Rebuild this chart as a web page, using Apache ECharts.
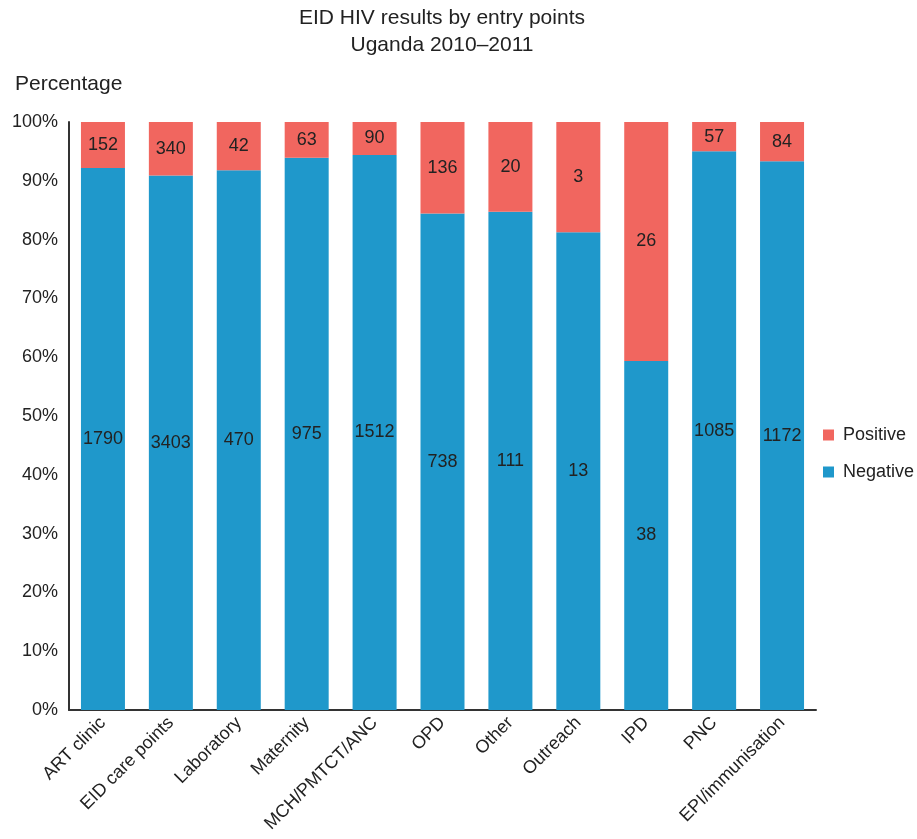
<!DOCTYPE html>
<html><head><meta charset="utf-8">
<script src="https://cdn.jsdelivr.net/npm/echarts@6/dist/echarts.min.js"></script>
<style>html,body{margin:0;padding:0;background:#fff}#c{width:917px;height:839px}</style>
</head><body><div id="c"></div>
<script>
const categories = ['ART clinic','EID care points','Laboratory','Maternity','MCH/PMTCT/ANC','OPD','Other','Outreach','IPD','PNC','EPI/immunisation'];
const negative = [1790,3403,470,975,1512,738,111,13,38,1085,1172];
const positive = [152,340,42,63,90,136,20,3,26,57,84];
const yTicks = [0,10,20,30,40,50,60,70,80,90,100];

const F = '"Liberation Sans", Arial, Helvetica, sans-serif';
const pct = (arr, i) => arr[i] / (negative[i] + positive[i]) * 100;
const negData = negative.map((v,i)=>({value: pct(negative,i), count: v}));
const posData = positive.map((v,i)=>({value: pct(positive,i), count: v}));

const chart = echarts.init(document.getElementById('c'), null, {renderer:'canvas'});
const lbl = {show:true, position:'inside', color:'#222', fontFamily:F, fontSize:18, formatter:p=>p.data.count};
chart.setOption({
  animation:false,
  title:[
    {text:'EID HIV results by entry points\nUganda 2010\u20132011', left:442, top:5, textAlign:'center', padding:0,
     textStyle:{fontFamily:F, fontSize:21, fontWeight:'normal', color:'#222', lineHeight:27}},
    {text:'Percentage', left:15, top:74, padding:0, textStyle:{fontFamily:F, fontSize:21, fontWeight:'normal', color:'#222'}}
  ],
  legend:{data:['Positive','Negative'], orient:'vertical', left:823, top:426, itemWidth:11, itemHeight:11, itemGap:19,
    icon:'rect', padding:0, textStyle:{fontFamily:F, fontSize:18, color:'#222', padding:[0,0,0,4]}},
  grid:{left:69, right:101, top:122, bottom:129},
  xAxis:{type:'category', data:categories,
    axisLine:{lineStyle:{color:'#333', width:2}}, axisTick:{show:false},
    axisLabel:{rotate:45, interval:0, fontFamily:F, fontSize:18, color:'#222', margin:10}},
  yAxis:{type:'value', min:0, max:100, interval:10,
    axisLine:{show:true, lineStyle:{color:'#333', width:2}}, axisTick:{show:false}, splitLine:{show:false},
    axisLabel:{formatter:v=>yTicks.includes(v)?v+'%':'', fontFamily:F, fontSize:18, color:'#222', margin:11}},
  series:[
    {name:'Negative', type:'bar', stack:'s', barWidth:44, data:negData, itemStyle:{color:'#1F98CB'}, label:lbl},
    {name:'Positive', type:'bar', stack:'s', barWidth:44, data:posData, itemStyle:{color:'#F1665F'}, label:lbl}
  ]
});
</script></body></html>
